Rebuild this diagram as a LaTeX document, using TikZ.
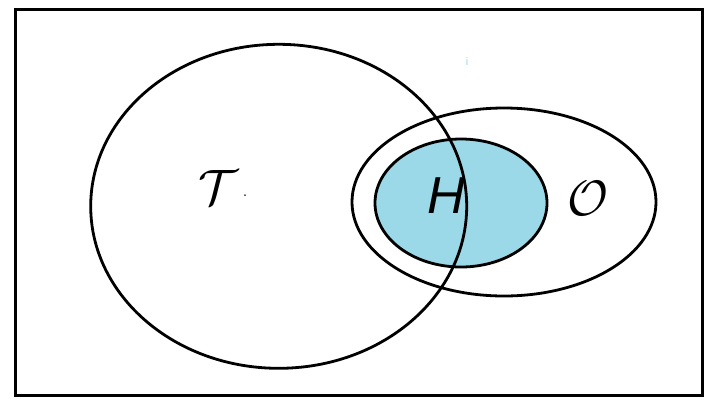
\documentclass[tikz,border=0pt]{standalone}
\usepackage{graphicx}
\usepackage{fontspec}
\newfontfamily\sansfont{Liberation Sans}
\definecolor{hfill}{RGB}{155,216,232}
\newcommand{\bigcal}[1]{\scalebox{2}{\fontsize{24.88}{30}\selectfont$\mathcal{#1}$}}
\tikzset{
  setline/.style={line width=2.8pt, draw=black},
  biglabel/.style={inner sep=0pt},
}
\begin{document}
\begin{tikzpicture}[x=1pt,y=-1pt]
\useasboundingbox (0,0) rectangle (720,408);
\draw[line width=3.2pt] (15.5,9.5) rectangle (702.5,395.5);
\coordinate (cT) at (278.7,206.3);
\coordinate (cO) at (504,202);
\coordinate (cH) at (461,203);
\draw[setline] (cO) ellipse [x radius=152, y radius=94];
\filldraw[setline, fill=hfill] (cH) ellipse [x radius=86, y radius=64];
\draw[setline] (cT) ellipse [x radius=188, y radius=162];
\node[biglabel] (T) at (218,187) {\bigcal{T}};
\node[inner sep=0pt, font=\fontsize{20}{20}\selectfont] (dot) at (245,196) {.};
\node[biglabel, font=\fontsize{52}{60}\selectfont\sansfont\itshape] (H) at (446,196) {H};
\node[biglabel] (O) at (588,198) {\bigcal{O}};
\node[inner sep=0pt, text=hfill, font=\sansfont\fontsize{11}{11}\selectfont] (i) at (467,62) {i};
\end{tikzpicture}
\end{document}
